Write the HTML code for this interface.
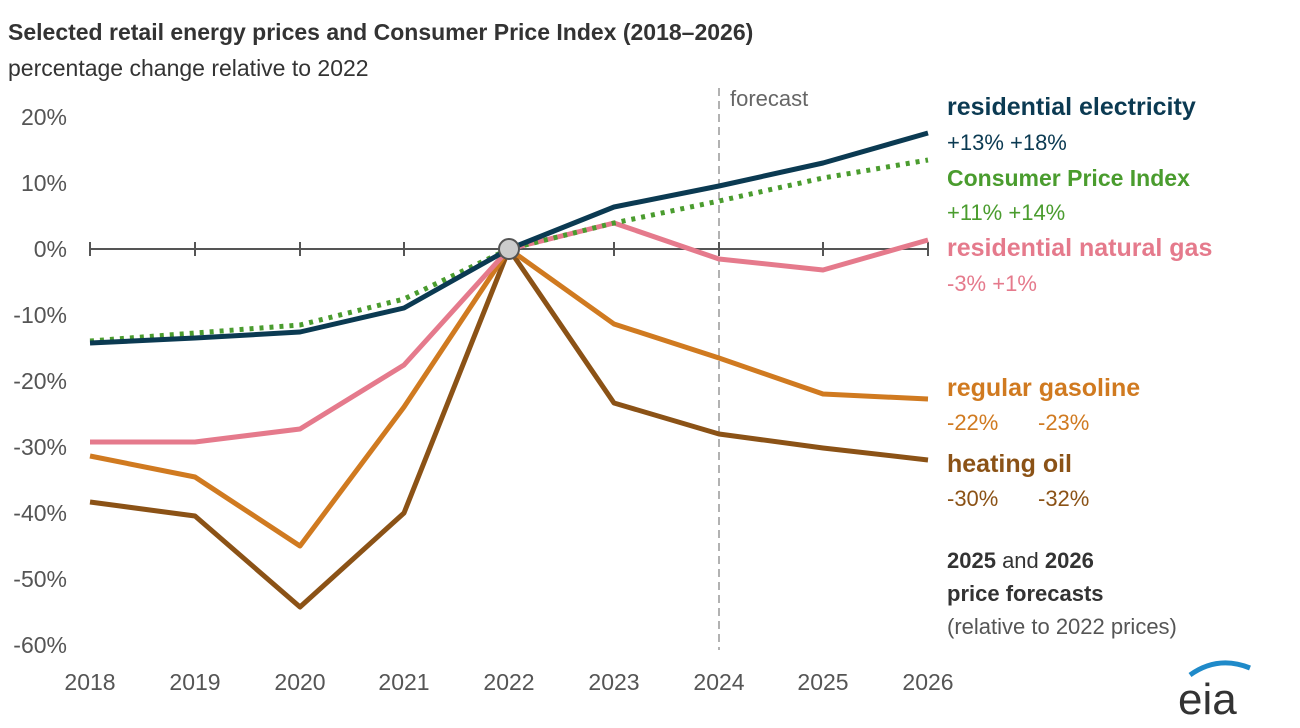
<!DOCTYPE html>
<html><head><meta charset="utf-8"><style>
body{margin:0;background:#fff;}
svg{display:block;font-family:"Liberation Sans",Arial,sans-serif;}
</style></head><body>
<svg width="1300" height="728" viewBox="0 0 1300 728">
<rect width="1300" height="728" fill="#fff"/>
<text x="8" y="40" font-size="23" font-weight="bold" fill="#333">Selected retail energy prices and Consumer Price Index (2018–2026)</text>
<text x="8" y="76" font-size="23" fill="#333">percentage change relative to 2022</text>
<g font-size="23" fill="#555" text-anchor="end">
<text x="67" y="125">20%</text><text x="67" y="191">10%</text><text x="67" y="257">0%</text>
<text x="67" y="323">-10%</text><text x="67" y="389">-20%</text><text x="67" y="455">-30%</text>
<text x="67" y="521">-40%</text><text x="67" y="587">-50%</text><text x="67" y="653">-60%</text>
</g>
<g font-size="23" fill="#555" text-anchor="middle">
<text x="90" y="690">2018</text><text x="195" y="690">2019</text><text x="300" y="690">2020</text>
<text x="404" y="690">2021</text><text x="509" y="690">2022</text><text x="614" y="690">2023</text>
<text x="719" y="690">2024</text><text x="823" y="690">2025</text><text x="928" y="690">2026</text>
</g>
<line x1="719" y1="88" x2="719" y2="650" stroke="#999" stroke-width="1.5" stroke-dasharray="8,5"/>
<text x="730" y="106" font-size="22" fill="#666">forecast</text>
<line x1="90" y1="249" x2="928" y2="249" stroke="#555" stroke-width="2"/>
<g stroke="#555" stroke-width="2">
<line x1="90" y1="242" x2="90" y2="256"/><line x1="195" y1="242" x2="195" y2="256"/><line x1="300" y1="242" x2="300" y2="256"/><line x1="404" y1="242" x2="404" y2="256"/><line x1="614" y1="242" x2="614" y2="256"/><line x1="719" y1="242" x2="719" y2="256"/><line x1="823" y1="242" x2="823" y2="256"/><line x1="928" y1="242" x2="928" y2="256"/>
</g>
<g fill="none" stroke-width="5" stroke-linejoin="round">
<polyline stroke="#8b5216" points="90,502 195,516 300,607 404,513 509,249 614,403 719,434 823,448 928,460"/>
<polyline stroke="#d07a20" points="90,456 195,477 300,546 404,407 509,249 614,324 719,358 823,394 928,399"/>
<polyline stroke="#e57a8c" points="90,442 195,442 300,429 404,365 509,249 614,223 719,259 823,270 928,240"/>
<polyline stroke="#4a9c2e" stroke-dasharray="4,6" points="90,341 195,333 300,325 404,299 509,249 614,223 719,201 823,178 928,160"/>
<polyline stroke="#0b3a52" points="90,343 195,338 300,332 404,308 509,249 614,207 719,186 823,163 928,133"/>
</g>
<circle cx="509" cy="249" r="10" fill="#ccc" stroke="#555" stroke-width="2"/>
<g font-size="25" font-weight="bold">
<text x="947" y="115" fill="#0b3a52">residential electricity</text>
<text x="947" y="186" fill="#4a9c2e" font-size="23">Consumer Price Index</text>
<text x="947" y="256" fill="#e57a8c">residential natural gas</text>
<text x="947" y="396" fill="#d07a20">regular gasoline</text>
<text x="947" y="472" fill="#8b5216">heating oil</text>
</g>
<g font-size="22">
<text x="947" y="150" fill="#0b3a52">+13% +18%</text>
<text x="947" y="220" fill="#4a9c2e">+11% +14%</text>
<text x="947" y="291" fill="#e57a8c">-3% +1%</text>
<text x="947" y="430" fill="#d07a20">-22%</text><text x="1038" y="430" fill="#d07a20">-23%</text>
<text x="947" y="506" fill="#8b5216">-30%</text><text x="1038" y="506" fill="#8b5216">-32%</text>
</g>
<text x="947" y="568" font-size="22" fill="#333"><tspan font-weight="bold">2025</tspan> and <tspan font-weight="bold">2026</tspan></text>
<text x="947" y="601" font-size="22" font-weight="bold" fill="#333">price forecasts</text>
<text x="947" y="634" font-size="22" fill="#555">(relative to 2022 prices)</text>
<text x="1178" y="714" font-size="44" fill="#333">eia</text>
<path d="M1190,675 Q1218,655 1250,668" stroke="#1f8ac9" stroke-width="5" fill="none"/>
</svg>
</body></html>
